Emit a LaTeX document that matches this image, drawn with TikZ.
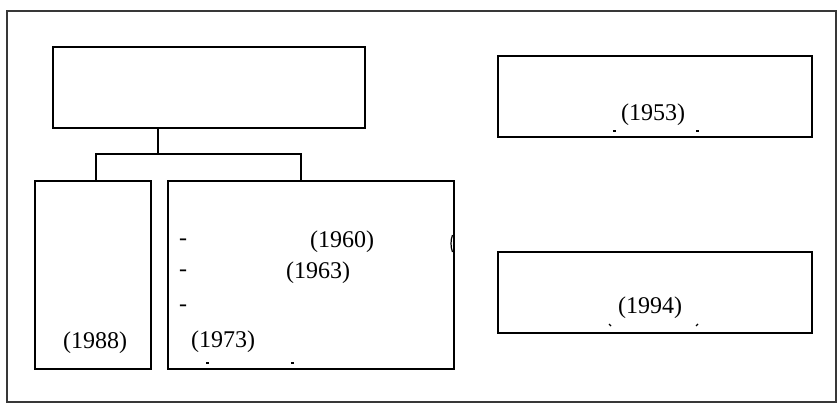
\documentclass[tikz,border=0pt]{standalone}
\usepackage{fontspec}
\setmainfont{Liberation Serif}
\begin{document}
\begin{tikzpicture}[x=1pt,y=-1pt,
  box/.style={draw=black,line width=1.7pt,inner sep=0pt,anchor=north west},
  lbl/.style={font=\fontsize{24}{28}\selectfont,inner sep=0pt},
  tick/.style={line width=1.2pt},
  conn/.style={draw=black,line width=1.7pt}]
\useasboundingbox (0,0) rectangle (838,410);
\draw[draw=black!78,line width=1.9pt] (7,11) rectangle (836,402);
% boxes
\node[box,minimum width=312pt,minimum height=81pt] (top) at (52,46) {};
\node[box,minimum width=116pt,minimum height=188pt] (left) at (34,180) {};
\node[box,minimum width=286pt,minimum height=188pt] (mid) at (167,180) {};
\node[box,minimum width=314pt,minimum height=81pt] (r1) at (497,55) {};
\node[box,minimum width=314pt,minimum height=81pt] (r2) at (497,251) {};
% connectors
\coordinate (stem) at (158,154);
\coordinate (bl) at (96,154);
\coordinate (br) at (301,154);
\draw[conn] (top.south -| stem) -- (stem);
\draw[conn] (bl |- left.north) -- (bl) -- (br) -- (br |- mid.north);
% labels
\node[lbl] (t1953) at (653,115) {(1953)};
\node[lbl] (t1994) at (650,308) {(1994)};
\node[lbl] (t1988) at (95,343) {(1988)};
\node[lbl] (t1960) at (342,242) {(1960)};
\node[lbl] (t1963) at (318,273) {(1963)};
\node[lbl] (t1973) at (223,342) {(1973)};
\node[lbl] (d1) at (183,242) {-};
\node[lbl] (d2) at (183,273) {-};
\node[lbl] (d3) at (183,308) {-};
% small clipped marks
\draw[tick] (206,363) -- (209,363);
\draw[tick] (291,363) -- (294,363);
\draw[tick] (613,131) -- (616,131);
\draw[tick] (696,131) -- (699,131);
\draw[tick] (609,324) -- (611,326);
\draw[tick] (698,324) -- (696,326);
\draw[line width=1.2pt] (452.5,235) .. controls (450.5,240) and (450.5,247) .. (452.5,252);
\end{tikzpicture}
\end{document}
